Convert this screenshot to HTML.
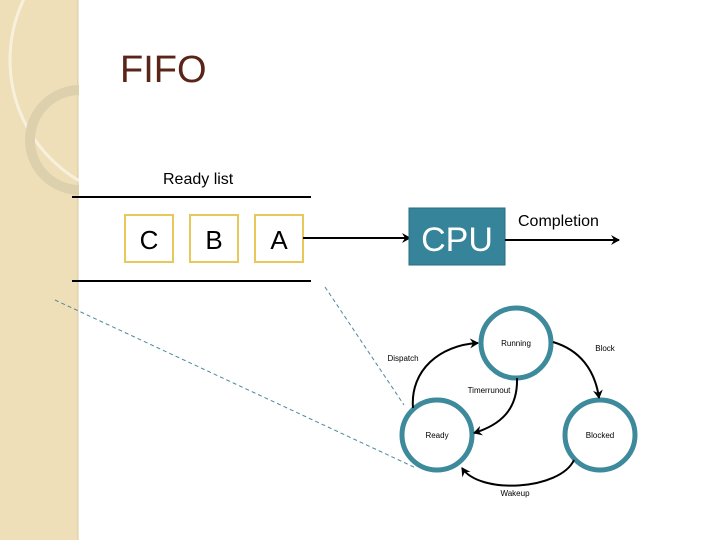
<!DOCTYPE html>
<html><head><style>
body{margin:0;width:720px;height:540px;overflow:hidden;background:#fff;font-family:"Liberation Sans",sans-serif}
</style></head><body>
<svg width="720" height="540" xmlns="http://www.w3.org/2000/svg" style="position:absolute;left:0;top:0">
<defs>
<marker id="ah" markerWidth="10" markerHeight="10" refX="8" refY="5" orient="auto" markerUnits="userSpaceOnUse"><path d="M0,0 L9,5 L0,10 L3,5 Z" fill="#000"/></marker>
</defs>
<rect x="0" y="0" width="78" height="540" fill="#eedfb9"/>
<line x1="78" y1="0" x2="78" y2="540" stroke="#d8c9a0" stroke-width="1"/>
<circle cx="150" cy="60" r="140" fill="none" stroke="#f8f0dc" stroke-width="3"/>
<circle cx="80" cy="140" r="50" fill="none" stroke="#ddd0ac" stroke-width="10"/>
<rect x="79" y="0" width="641" height="540" fill="#fff"/>
<text x="120" y="82" font-size="38" fill="#5a2418">FIFO</text>
<text x="163" y="184" font-size="16" fill="#000">Ready list</text>
<line x1="72" y1="197" x2="311" y2="197" stroke="#000" stroke-width="2"/>
<line x1="72" y1="281" x2="311" y2="281" stroke="#000" stroke-width="2"/>
<g fill="#fff" stroke="#e8c85a" stroke-width="2">
<rect x="125" y="215" width="48" height="47"/><rect x="190" y="215" width="48" height="47"/><rect x="255" y="215" width="48" height="47"/></g>
<g font-size="26" text-anchor="middle" fill="#000"><text x="149" y="249">C</text><text x="214" y="249">B</text><text x="279" y="249">A</text></g>
<line x1="303" y1="238" x2="410" y2="238" stroke="#000" stroke-width="2" marker-end="url(#ah)"/>
<rect x="409" y="208" width="96" height="57" fill="#35849a" stroke="#2a6b7d" stroke-width="1"/>
<text x="457" y="251" font-size="34" fill="#fff" text-anchor="middle">CPU</text>
<text x="518" y="226" font-size="16" fill="#000">Completion</text>
<line x1="505" y1="240" x2="619" y2="240" stroke="#000" stroke-width="2" marker-end="url(#ah)"/>
<g stroke="#4a8a9a" stroke-width="1" stroke-dasharray="4,3" fill="none">
<line x1="55" y1="300" x2="416" y2="468"/><line x1="325" y1="287" x2="404" y2="405"/></g>
<g fill="#fff" stroke="#3c8a9c" stroke-width="5">
<circle cx="516" cy="343" r="35"/><circle cx="437" cy="435" r="35"/><circle cx="600" cy="435" r="35"/></g>
<g fill="none" stroke="#000" stroke-width="2" marker-end="url(#ah)">
<path d="M413,408 C410,370 440,345 478,343"/>
<path d="M517,378 C518,410 500,425 474,433"/>
<path d="M553,342 C580,350 595,370 599,398"/>
<path d="M574,460 C560,490 480,495 462,468"/>
</g>
<g font-size="8" fill="#000" text-anchor="middle">
<text x="516" y="346">Running</text><text x="437" y="438">Ready</text><text x="600" y="438">Blocked</text>
<text x="403" y="361">Dispatch</text><text x="489" y="393">Timerrunout</text><text x="605" y="351">Block</text><text x="515" y="496">Wakeup</text></g>
</svg>
</body></html>
